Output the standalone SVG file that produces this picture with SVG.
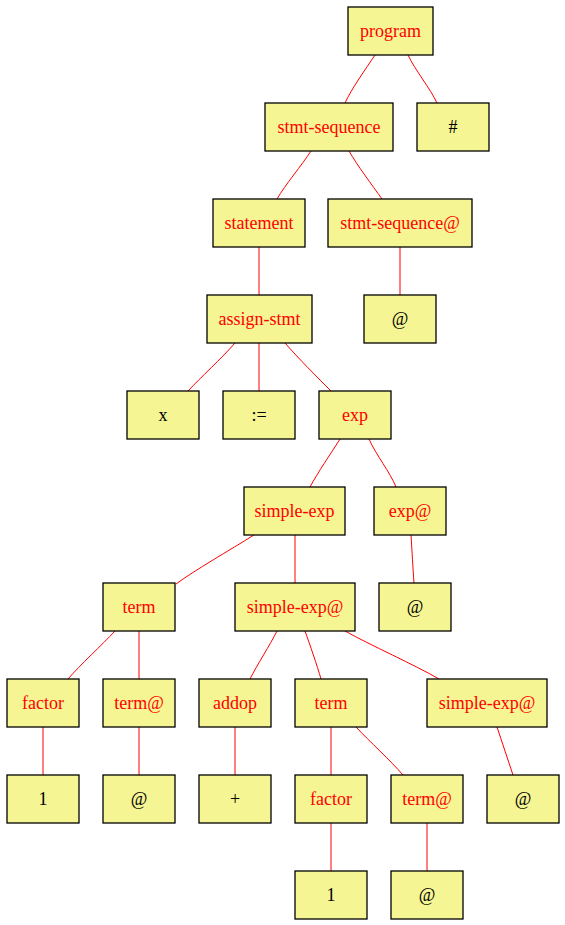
<svg xmlns="http://www.w3.org/2000/svg" width="565" height="925" viewBox="0 0 565 925">
<style>
rect{fill:#f5f593;stroke:#000;stroke-width:1.3}
text{font-family:"Liberation Serif","Times New Roman",serif;font-size:18px;text-anchor:middle}
.n{fill:#ff0000}
.t{fill:#000}
#edges path{stroke:#ff0000;stroke-width:1;fill:none}
</style>
<rect x="0" y="0" width="565" height="925" style="fill:#fff;stroke:none"/>
<g id="edges">
<path d="M375,55 C365,70 352,88 345,103"/>
<path d="M408,55 C415,70 430,88 437,103"/>
<path d="M311,151 C302,165 285,185 277,199"/>
<path d="M349,151 C357,165 372,185 382,199"/>
<path d="M259,247 L259,295"/>
<path d="M400,247 L400,295"/>
<path d="M235,343 C222,358 200,378 188,391"/>
<path d="M259,343 L259,391"/>
<path d="M285,343 C298,358 318,378 331,391"/>
<path d="M340,439 C330,455 318,472 310,487"/>
<path d="M369,439 C376,455 390,472 396,487"/>
<path d="M254,535 C230,550 195,570 176,584"/>
<path d="M295,535 L295,583"/>
<path d="M411,535 C412,550 413,570 414,583"/>
<path d="M115,631 C102,645 80,665 68,679"/>
<path d="M139,631 L139,679"/>
<path d="M277,631 C270,645 257,665 250,679"/>
<path d="M305,631 C310,645 317,665 321,679"/>
<path d="M345,631 C370,645 415,665 439,679"/>
<path d="M43,727 L43,775"/>
<path d="M139,727 L139,775"/>
<path d="M235,727 L235,775"/>
<path d="M331,727 L331,775"/>
<path d="M356,727 C370,742 390,760 403,775"/>
<path d="M497,727 C502,742 508,760 513,775"/>
<path d="M331,823 L331,871"/>
<path d="M427,823 L427,871"/>
</g>
<g id="program"><rect x="348" y="7" width="85" height="48"/><text class="n" x="390.5" y="37">program</text></g>
<g id="stmt-sequence"><rect x="265" y="103" width="128" height="48"/><text class="n" x="329" y="133">stmt-sequence</text></g>
<g id="hash"><rect x="417" y="103" width="72" height="48"/><text class="t" x="453" y="133">#</text></g>
<g id="statement"><rect x="213" y="199" width="92" height="48"/><text class="n" x="259" y="229">statement</text></g>
<g id="stmt-sequence-at"><rect x="328" y="199" width="144" height="48"/><text class="n" x="400" y="229">stmt-sequence@</text></g>
<g id="assign-stmt"><rect x="207" y="295" width="105" height="48"/><text class="n" x="259.5" y="325">assign-stmt</text></g>
<g id="at1"><rect x="364" y="295" width="72" height="48"/><text class="t" x="400" y="325">@</text></g>
<g id="x"><rect x="127" y="391" width="72" height="48"/><text class="t" x="163" y="421">x</text></g>
<g id="assign"><rect x="223" y="391" width="72" height="48"/><text class="t" x="259" y="421">:=</text></g>
<g id="exp"><rect x="319" y="391" width="72" height="48"/><text class="n" x="355" y="421">exp</text></g>
<g id="simple-exp"><rect x="244" y="487" width="101" height="48"/><text class="n" x="294.5" y="517">simple-exp</text></g>
<g id="exp-at"><rect x="374" y="487" width="72" height="48"/><text class="n" x="410" y="517">exp@</text></g>
<g id="term1"><rect x="103" y="583" width="72" height="48"/><text class="n" x="139" y="613">term</text></g>
<g id="simple-exp-at1"><rect x="235" y="583" width="120" height="48"/><text class="n" x="295" y="613">simple-exp@</text></g>
<g id="at2"><rect x="379" y="583" width="72" height="48"/><text class="t" x="415" y="613">@</text></g>
<g id="factor1"><rect x="7" y="679" width="72" height="48"/><text class="n" x="43" y="709">factor</text></g>
<g id="term-at1"><rect x="103" y="679" width="72" height="48"/><text class="n" x="139" y="709">term@</text></g>
<g id="addop"><rect x="199" y="679" width="72" height="48"/><text class="n" x="235" y="709">addop</text></g>
<g id="term2"><rect x="295" y="679" width="72" height="48"/><text class="n" x="331" y="709">term</text></g>
<g id="simple-exp-at2"><rect x="427" y="679" width="120" height="48"/><text class="n" x="487" y="709">simple-exp@</text></g>
<g id="one1"><rect x="7" y="775" width="72" height="48"/><text class="t" x="43" y="805">1</text></g>
<g id="at3"><rect x="103" y="775" width="72" height="48"/><text class="t" x="139" y="805">@</text></g>
<g id="plus"><rect x="199" y="775" width="72" height="48"/><text class="t" x="235" y="805">+</text></g>
<g id="factor2"><rect x="295" y="775" width="72" height="48"/><text class="n" x="331" y="805">factor</text></g>
<g id="term-at2"><rect x="391" y="775" width="72" height="48"/><text class="n" x="427" y="805">term@</text></g>
<g id="at4"><rect x="487" y="775" width="72" height="48"/><text class="t" x="523" y="805">@</text></g>
<g id="one2"><rect x="295" y="871" width="72" height="48"/><text class="t" x="331" y="901">1</text></g>
<g id="at5"><rect x="391" y="871" width="72" height="48"/><text class="t" x="427" y="901">@</text></g>
</svg>
